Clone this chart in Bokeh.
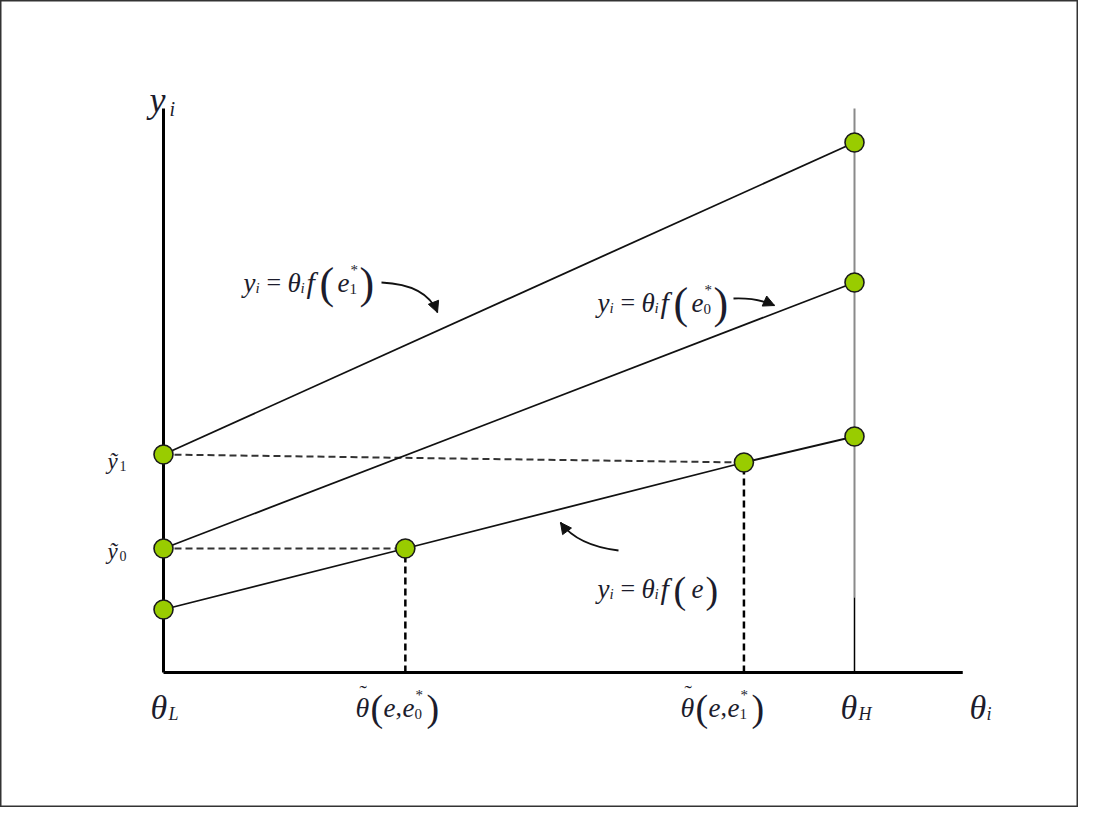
from bokeh.plotting import figure
from bokeh.models import Range1d, Label, Arrow, NormalHead
from bokeh.embed import file_html
from bokeh.resources import INLINE

# ---------------- data ----------------
theta_L = 1.0            # θ_L
theta_H = 4.0            # θ_H
theta_t0 = 2.05          # θ̃(e, e0*)
theta_t1 = 3.52          # θ̃(e, e1*)
theta_axis_end = 4.47    # end of the θ_i axis
y_axis_top = 5.64        # top of the y_i axis

high_x = [theta_L, theta_H]
high_y = [2.18, 5.30]                    # y = θ f(e1*)
mid_x = [theta_L, theta_H]
mid_y = [1.24, 3.90]                     # y = θ f(e0*)
low_x = [theta_L, theta_t0, theta_t1, theta_H]
low_y = [0.63, 1.24, 2.10, 2.36]         # y = θ f(e) at θ_L, θ̃0, θ̃1, θ_H
y_tilde1 = 2.18
y_tilde0 = 1.24
theta_H_gray_bottom = 0.75

point_x = [theta_L, theta_L, theta_L, theta_t0, theta_t1, theta_H, theta_H, theta_H]
point_y = [high_y[0], mid_y[0], low_y[0], low_y[1], low_y[2], high_y[1], mid_y[1], low_y[3]]

# ---------------- layout ----------------
W, H = 1078, 807
OFF = 0                       # page offset of the canvas
PX_L, PX_H = 163.0, 854.0     # page x of θ_L and θ_H
S = (PX_H - PX_L) / (theta_H - theta_L)
PY0, SY = 672.0, 100.0        # page y of the θ axis, px per y unit


def X(px):
    return theta_L + (px - PX_L) / S


def Y(py):
    return (PY0 - py) / SY


p = figure(width=W, height=H, output_backend="svg", toolbar_location=None,
           x_range=Range1d(X(OFF), X(OFF + W)), y_range=Range1d(Y(OFF + H), Y(OFF)),
           x_axis_location=None, y_axis_location=None, min_border=0)
p.grid.visible = False
p.outline_line_color = "#333333"
p.outline_line_width = 2
p.background_fill_color = "white"
p.border_fill_color = "white"

GREEN = "#99CC00"
INK = "#1c1c2c"
FONT = "Liberation Serif"

# axes
p.line([theta_L, theta_L], [0, y_axis_top], line_color="black", line_width=3)
p.line([theta_L, theta_axis_end], [0, 0], line_color="black", line_width=3)
# vertical at θ_H
p.line([theta_H, theta_H], [theta_H_gray_bottom, y_axis_top], line_color="#8a8a8a", line_width=2)
p.line([theta_H, theta_H], [0, theta_H_gray_bottom], line_color="black", line_width=1.5)

# dashed guides
p.line([theta_L, theta_t1], [y_tilde1, low_y[2]], line_color="#333333", line_width=2, line_dash="7 4")
p.line([theta_L, theta_t0], [y_tilde0, low_y[1]], line_color="#333333", line_width=2, line_dash="7 4")
p.line([theta_t0, theta_t0], [0, low_y[1]], line_color="black", line_width=2.5, line_dash="7 4")
p.line([theta_t1, theta_t1], [0, low_y[2]], line_color="black", line_width=2.5, line_dash="7 4")

# the three lines
p.line(high_x, high_y, line_color="#111111", line_width=1.8)
p.line(mid_x, mid_y, line_color="#111111", line_width=1.8)
p.line(low_x, low_y, line_color="#111111", line_width=1.8)

# points
p.scatter(point_x, point_y, size=19, fill_color=GREEN, line_color="#1a1a1a", line_width=1.6)


# ---------------- text ----------------
def put(px, py, pieces):
    for txt, dx, dy, size, italic in pieces:
        p.add_layout(Label(x=X(px), y=Y(py), x_offset=dx, y_offset=dy, text=txt,
                           text_font=FONT, text_font_size=f"{size}px",
                           text_font_style="italic" if italic else "normal",
                           text_color=INK, text_align="left", text_baseline="alphabetic"))


# y_i axis title
put(149, 99, [("y", 0, 0, 36, True), ("i", 20, -9, 20, True)])
# θ axis labels
put(150, 707, [("θ", 0, 0, 34, True), ("L", 18, -6, 18, True)])
put(840, 707, [("θ", 0, 0, 34, True), ("H", 18, -6, 18, True)])
put(969, 707, [("θ", 0, 0, 34, True), ("i", 17, -6, 18, True)])


def theta_tilde(left, sub):
    put(left, 707, [("θ", 0, 0, 28, True), ("˜", 4, 15, 22, False), ("(", 15, 0, 38, False),
                    ("e", 28, 0, 27, True), (",", 40, 0, 26, False), ("e", 47, 0, 27, True),
                    (sub, 59, -6, 15, False), ("*", 60, 13, 15, False), (")", 71, 0, 38, False)])


theta_tilde(355, "0")
theta_tilde(680, "1")

# ỹ labels
put(107, 461, [("\u1ef9", 0, 0, 23, True), ("1", 12, -4, 14, False)])
put(107, 551, [("\u1ef9", 0, 0, 23, True), ("0", 12, -4, 14, False)])


def equation(left, base, tail, psize):
    pieces = [("y", 0, 0, 27, True), ("i", 12, -5, 15, True), ("=", 23, 0, 26, False),
              ("θ", 44, 0, 27, True), ("i", 57, -5, 15, True), ("f", 63, 0, 30, True),
              ("(", 76, -1, psize, False), ("e", 94, 0, 27, True)]
    pieces += tail
    put(left, base, pieces)


equation(243, 282, [("*", 107, 13, 15, False), ("1", 106, -6, 15, False), (")", 116, -1, 44, False)], 44)
equation(597, 302, [("*", 107, 13, 15, False), ("0", 106, -6, 15, False), (")", 116, -1, 44, False)], 44)
equation(597, 588, [(")", 108, -1, 38, False)], 38)


# ---------------- curved arrows ----------------
def curved_arrow(start, ctrl, end):
    p.quadratic(x0=[X(start[0])], y0=[Y(start[1])], x1=[X(end[0])], y1=[Y(end[1])],
                cx=[X(ctrl[0])], cy=[Y(ctrl[1])], line_color="#111111", line_width=1.8)
    tx, ty = end[0] - ctrl[0], end[1] - ctrl[1]
    n = (tx * tx + ty * ty) ** 0.5
    sx, sy = end[0] - tx / n * 3, end[1] - ty / n * 3
    p.add_layout(Arrow(end=NormalHead(size=11, fill_color="#111111", line_color="#111111"),
                       x_start=X(sx), y_start=Y(sy), x_end=X(end[0]), y_end=Y(end[1]),
                       line_color="#111111", line_width=1))


curved_arrow((381, 282), (426, 284), (437, 312))
curved_arrow((733, 298), (756, 297), (774, 305))
curved_arrow((618, 550), (577, 545), (560, 522))

open("out.html", "w").write(file_html(p, INLINE))
